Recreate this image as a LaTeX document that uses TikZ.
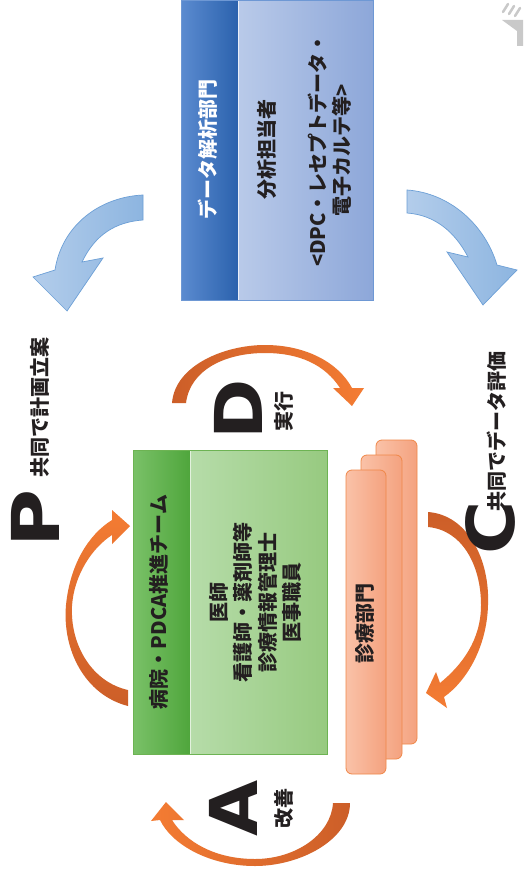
\documentclass[tikz,border=0pt]{standalone}
\usepackage{fontspec}
\setmainfont{Noto Sans CJK JP}
\newfontfamily\bigf{DejaVu Sans}
\definecolor{txtc}{HTML}{231F20}
\definecolor{bdl}{HTML}{5B8BD0}
\definecolor{bdr}{HTML}{2B62AD}
\definecolor{bll}{HTML}{B9CAE9}
\definecolor{blr}{HTML}{8DA7D9}
\definecolor{bbd}{HTML}{6E98D4}
\definecolor{gdl}{HTML}{7AC168}
\definecolor{gdr}{HTML}{4FA63C}
\definecolor{gll}{HTML}{B6DCA9}
\definecolor{glr}{HTML}{97CA80}
\definecolor{gbd}{HTML}{6DB353}
\definecolor{obl}{HTML}{FAC2A8}
\definecolor{obr}{HTML}{F4A27F}
\definecolor{obd}{HTML}{F08748}
\definecolor{arD}{HTML}{CC5E28}
\definecolor{arB}{HTML}{F47C33}
\definecolor{baL}{HTML}{B3CDEB}
\definecolor{baR}{HTML}{8DB5E0}
\definecolor{baD}{HTML}{6C9FD6}
\definecolor{spk}{HTML}{C9C9C9}
\begin{document}
\begin{tikzpicture}[x=1pt,y=-1pt,
  jtxt/.style={font=\bfseries\fontsize{20}{24}\selectfont, text=txtc, rotate=90, inner sep=0pt},
  wtxt/.style={jtxt, text=white},
  bigl/.style={font=\bigf\bfseries\fontsize{66}{66}\selectfont, text=txtc, rotate=90, inner sep=0pt},
  obox/.style={draw=obd, line width=0.8pt, left color=obl, right color=obr, rounded corners=6pt},
  barrow/.style={draw=baD, line width=0.7pt, left color=baL, right color=baR}]
\useasboundingbox (0,0) rectangle (523,874);
\fill[white] (0,0) rectangle (523,874);

% speaker icon (top right)
\fill[spk] (502,20) -- (523,20) -- (523,46) -- (517,46) -- (517,31) -- cycle;
\draw[spk, line width=2.5pt, line cap=round] (503,12) -- (508,4);
\draw[spk, line width=2.5pt, line cap=round] (509,14) -- (514,6);
\draw[spk, line width=2.5pt, line cap=round] (515,16) -- (520,8);

% data analysis box
\shade[left color=bdl, right color=bdr] (181,0) rectangle (238,300);
\shade[left color=bll, right color=blr] (238,0) rectangle (373,300);
\draw[white!70!bll, line width=0.8pt] (238,0) -- (238,300);
\draw[bbd, line width=0.8pt] (181,0) rectangle (373,300);
\node[wtxt] (dah) at (208,150) {データ解析部門};
\node[jtxt] (da1) at (267,150) {分析担当者};
\node[jtxt] (da2) at (318,150) {<DPC・レセプトデータ・};
\node[jtxt] (da3) at (342,150) {電子カルテ等>};

% blue arrows
\draw[barrow] (143,195) .. controls (100,197) and (62,225) .. (55,270) -- (33,277) -- (67,311) -- (103,258) -- (82,262) .. controls (95,235) and (115,222) .. (143,220) -- cycle;
\draw[barrow] (407,190) .. controls (450,193) and (485,225) .. (497,265) -- (517,270) -- (483,305) -- (447,252) -- (468,257) .. controls (455,232) and (435,215) .. (407,213) -- cycle;

% green team box
\shade[left color=gdl, right color=gdr] (133,450) rectangle (190,754);
\shade[left color=gll, right color=glr] (190,450) rectangle (327,754);
\draw[white!60!gll, line width=0.8pt] (190,450) -- (190,754);
\draw[gbd, line width=0.8pt] (133,450) rectangle (327,754);
\node[jtxt] (gh) at (159,602) {病院・PDCA推進チーム};
\node[jtxt] (g1) at (219,602) {医師};
\node[jtxt] (g2) at (243,602) {看護師・薬剤師等};
\node[jtxt] (g3) at (268,602) {診療情報管理士};
\node[jtxt] (g4) at (292,602) {医事職員};

% clinical department stacked boxes
\draw[obox] (376,440) rectangle (417,744);
\draw[obox] (361,455) rectangle (402,759);
\draw[obox] (346,470) rectangle (386,774);
\node[jtxt] (cd) at (365,623) {診療部門};

% orange cycle arrows
\shade[left color=arD, right color=arB] (172,403) .. controls (175,365) and (225,345) .. (265,345) .. controls (305,345) and (338,362) .. (352,388) -- (364,388) -- (352,406) -- (333,388) -- (340,388) .. controls (325,365) and (300,353) .. (265,353) .. controls (225,353) and (190,370) .. (186,403) -- cycle;
\shade[top color=arB, bottom color=arD] (128,706) .. controls (85,695) and (62,650) .. (66,605) .. controls (70,565) and (88,535) .. (112,520) -- (112,510) -- (130,526) -- (112,544) -- (112,535) .. controls (92,548) and (74,575) .. (72,606) .. controls (70,645) and (92,682) .. (128,690) -- cycle;
\shade[top color=arD, bottom color=arB] (428,512) .. controls (468,515) and (490,560) .. (488,605) .. controls (487,645) and (468,680) .. (444,697) -- (447,708) -- (426,693) -- (436,672) -- (440,683) .. controls (462,665) and (481,640) .. (481,605) .. controls (481,565) and (462,530) .. (428,527) -- cycle;
\shade[left color=arB, right color=arD] (350,803) .. controls (350,840) and (300,866) .. (255,866) .. controls (210,866) and (172,845) .. (160,820) -- (151,821) -- (166,802) -- (184,820) -- (172,820) .. controls (186,842) and (215,859) .. (255,859) .. controls (295,859) and (331,835) .. (333,803) -- cycle;

% PDCA letters and labels
\node[bigl] (P) at (35,518) {\scalebox{1.2}[1]{P}};
\node[jtxt, anchor=west] (pl) at (40,478) {共同で計画立案};
\node[bigl] (D) at (238,409) {\scalebox{1.1}[1]{D}};
\node[jtxt] (dl) at (284,411) {実行};
\node[bigl] (C) at (490,528) {\scalebox{1.1}[1]{C}};
\node[jtxt, anchor=west] (cl) at (497,512) {共同でデータ評価};
\node[bigl] (A) at (233,808) {\scalebox{1.1}[1]{A}};
\node[jtxt] (al) at (284,808) {改善};
\end{tikzpicture}
\end{document}
